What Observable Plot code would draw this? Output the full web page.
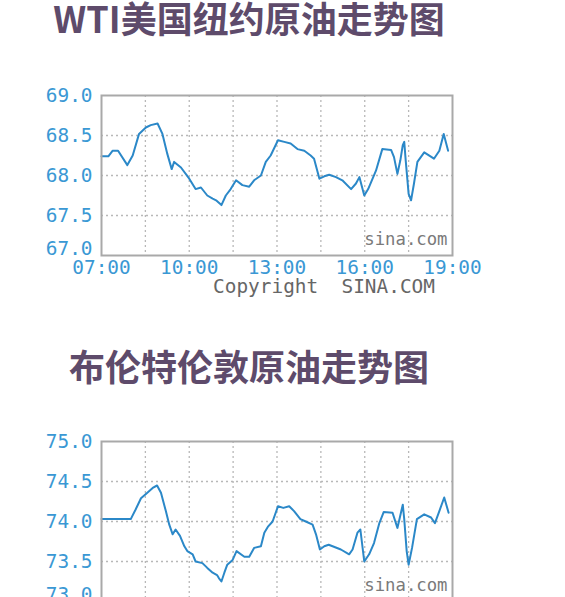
<!DOCTYPE html>
<html>
<head>
<meta charset="utf-8">
<script src="https://cdn.jsdelivr.net/npm/d3@7"></script>
<script src="https://cdn.jsdelivr.net/npm/@observablehq/plot@0.6"></script>
<style>
  html, body { margin: 0; padding: 0; background: #fff; }
  body { position: relative; width: 565px; height: 760px; overflow: hidden; }
  .title { position: absolute; left: 0; width: 498px; text-align: center;
           font: 700 36px/50px "Noto Sans CJK SC", sans-serif; color: #5e4b6b; white-space: nowrap; }
  .chart { position: absolute; left: 0; }
</style>
</head>
<body>
<script>
// ---- data ----
const wtiTimes = ["07:00","07:14","07:23","07:34","07:53","08:04","08:17","08:31","08:41","08:55","09:05","09:15","09:24","09:29","09:43","10:00","10:13","10:24","10:37","10:48","10:55","11:06","11:15","11:25","11:36","11:49","12:03","12:13","12:27","12:37","12:47","13:02","13:15","13:28","13:42","13:56","14:09","14:16","14:27","14:37","14:47","15:01","15:14","15:32","15:42","15:49","15:59","16:07","16:23","16:36","16:54","17:00","17:07","17:13","17:18","17:21","17:24","17:30","17:35","17:41","17:48","18:02","18:22","18:33","18:42","18:51"];
const wtiValues = [68.24,68.24,68.31,68.31,68.13,68.25,68.52,68.60,68.63,68.65,68.52,68.27,68.08,68.17,68.10,67.96,67.83,67.85,67.75,67.71,67.69,67.63,67.75,67.83,67.94,67.88,67.86,67.94,68.00,68.17,68.25,68.44,68.42,68.40,68.33,68.31,68.25,68.21,67.96,67.99,68.01,67.98,67.94,67.83,67.90,67.98,67.75,67.83,68.06,68.33,68.32,68.23,68.02,68.19,68.38,68.42,68.19,67.77,67.69,67.90,68.17,68.29,68.21,68.31,68.52,68.31];

const brentTimes = ["07:00","08:00","08:10","08:21","08:34","08:45","08:54","09:02","09:12","09:19","09:26","09:32","09:41","09:50","09:56","10:07","10:13","10:27","10:37","10:48","10:57","11:01","11:06","11:12","11:18","11:29","11:37","11:53","12:03","12:13","12:27","12:34","12:42","12:51","13:02","13:13","13:25","13:35","13:48","13:59","14:13","14:20","14:28","14:37","14:46","14:54","15:11","15:28","15:35","15:45","15:51","15:59","16:09","16:19","16:30","16:39","16:57","17:07","17:12","17:18","17:21","17:26","17:30","17:37","17:47","18:02","18:16","18:24","18:33","18:43","18:52"];
const brentValues = [74.03,74.03,74.15,74.29,74.36,74.42,74.45,74.36,74.13,73.96,73.84,73.90,73.82,73.69,73.63,73.59,73.50,73.48,73.42,73.36,73.33,73.29,73.25,73.36,73.46,73.52,73.63,73.56,73.56,73.67,73.69,73.86,73.94,74.00,74.19,74.17,74.19,74.13,74.03,74.00,73.96,73.84,73.65,73.69,73.71,73.69,73.65,73.59,73.65,73.86,73.90,73.50,73.59,73.73,73.98,74.12,74.11,73.92,74.05,74.21,74.03,73.63,73.46,73.67,74.03,74.09,74.05,73.98,74.13,74.30,74.11];

const xTickLabels = ["07:00","10:00","13:00","16:00","19:00"];
const xGridLabels = ["08:30","10:00","11:30","13:00","14:30","16:00","17:30"];
const wtiYTicks = [67.0, 67.5, 68.0, 68.5, 69.0];
const brentYTicks = [73.0, 73.5, 74.0, 74.5, 75.0];

const charts = [
  {title: "WTI美国纽约原油走势图", times: wtiTimes, values: wtiValues, yTicks: wtiYTicks, titleTop: -8, top: 60},
  {title: "布伦特伦敦原油走势图", times: brentTimes, values: brentValues, yTicks: brentYTicks, titleTop: 340, top: 406}
];

const parse = d3.timeParse("%H:%M");
const fmt = d3.timeFormat("%H:%M");

for (const c of charts) {
  const t = document.createElement("div");
  t.className = "title";
  t.style.top = c.titleTop + "px";
  t.textContent = c.title;
  document.body.appendChild(t);

  const data = c.times.map((s, i) => ({t: parse(s), v: c.values[i]}));
  const yMin = c.yTicks[0], yMax = c.yTicks[c.yTicks.length - 1];
  const H = 260;
  const plot = Plot.plot({
    width: 565,
    height: H,
    marginLeft: 101,
    marginRight: 113,
    marginTop: 35,
    marginBottom: 65,
    style: {fontFamily: "'DejaVu Sans Mono', monospace", fontSize: "19.4px", color: "#3a98d4", background: "transparent", overflow: "visible"},
    x: {type: "time", domain: [parse(xTickLabels[0]), parse(xTickLabels[xTickLabels.length - 1])]},
    y: {domain: [yMin, yMax]},
    marks: [
      Plot.gridX(xGridLabels.map(parse), {stroke: "#b8b8b8", strokeOpacity: 1, strokeWidth: 1.3, strokeDasharray: "2,3"}),
      Plot.gridY(c.yTicks.slice(1, -1), {stroke: "#b8b8b8", strokeOpacity: 1, strokeWidth: 1.3, strokeDasharray: "2,3"}),
      Plot.text(["sina.com"], {frameAnchor: "bottom-right", textAnchor: "end", dx: -5, dy: -11, fill: "#7a7a7a", fontSize: 17.3}),
      Plot.line(data, {x: "t", y: "v", stroke: "#2b88c8", strokeWidth: 2, strokeLinejoin: "round"}),
      Plot.frame({stroke: "#a9a9a9", strokeWidth: 2}),
      Plot.axisY(c.yTicks.slice(1), {tickSize: 0, tickPadding: 9, tickFormat: d3.format(".1f"), fill: "#3a98d4", label: null}),
      Plot.axisY(c.yTicks.slice(0, 1), {tickSize: 0, tickPadding: 9, dy: -7, tickFormat: d3.format(".1f"), fill: "#3a98d4", label: null}),
      Plot.axisX(xTickLabels.map(parse), {tickSize: 0, tickPadding: 5, tickFormat: fmt, fill: "#3a98d4", label: null}),
      Plot.text(["Copyright\u00a0\u00a0SINA.COM"], {frameAnchor: "bottom", dx: 47, dy: 37, fill: "#666666"})
    ]
  });
  plot.classList.add("chart");
  plot.style.position = "absolute";
  plot.style.top = c.top + "px";
  plot.style.left = "0px";
  document.body.appendChild(plot);
}
</script>
</body>
</html>
